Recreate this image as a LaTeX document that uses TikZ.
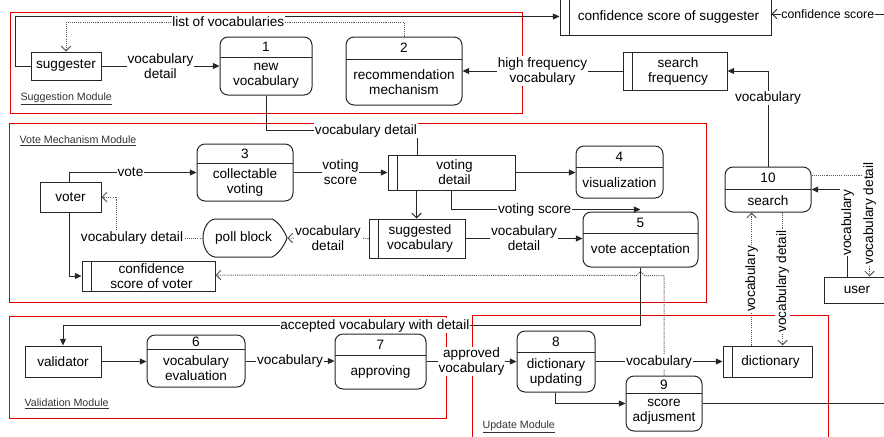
\documentclass[tikz,border=0pt]{standalone}
\usepackage{fontspec}
\setmainfont{Liberation Sans}
\usetikzlibrary{arrows.meta,calc}
\tikzset{
  every node/.style={font=\fontsize{10.2}{11.25}\selectfont, inner sep=1pt, align=center},
  ln/.style={line width=0.75pt, draw=black!85},
  dotln/.style={line width=0.75pt, draw=black!65, dash pattern=on 0.8pt off 0.8pt},
  ftip/.style={-{Triangle[length=5pt,width=4.5pt]}},
  otip/.style={-{Straight Barb[length=3.5pt,width=7pt]}},
  lbl/.style={fill=white, inner sep=0.6pt},
  proc/.style={draw=black!85, line width=0.75pt, rounded corners=6pt, inner sep=0pt},
  storebox/.style={draw=black!85, line width=0.75pt, inner sep=0pt},
  ent/.style={draw=black!85, line width=0.75pt, inner sep=0pt},
  module/.style={draw=red!90!black, line width=0.75pt},
  modlbl/.style={font=\fontsize{8}{9}\selectfont, anchor=west, text=black!80},
}
\newcommand\procnode[8]{%
  \node[proc, minimum width={(#4-#2)*0.75pt}, minimum height={(#5-#3)*0.75pt}] (#1) at ({(#2+#4)/2},{(#3+#5)/2}) {};
  \draw[ln] (#2,#6) -- (#4,#6);
  \node (#1n) at ({(#2+#4)/2},{(#3+#6)/2}) {#7};
  \node (#1t) at ({(#2+#4)/2},{(#6+#5)/2}) {#8};
}
\newcommand\storenode[6]{%
  \node[storebox, minimum width={(#4-#2)*0.75pt}, minimum height={(#5-#3)*0.75pt}] (#1) at ({(#2+#4)/2},{(#3+#5)/2}) {};
  \draw[ln] ({#2+9},#3) -- ({#2+9},#5);
  \node (#1t) at ({(#2+#4)/2+3},{(#3+#5)/2}) {#6};
}
\newcommand\entnode[6]{%
  \node[ent, minimum width={(#4-#2)*0.75pt}, minimum height={(#5-#3)*0.75pt}] (#1) at ({(#2+#4)/2},{(#3+#5)/2}) {#6};
}
\begin{document}
\begin{tikzpicture}[x=0.75pt,y=-0.75pt]
\useasboundingbox (0,0) rectangle (884,436);

% modules
\draw[module] (10,12) rectangle (522,113);
\draw[module] (9,123) rectangle (706,302);
\draw[module] (9,316) rectangle (446,418);
\draw[module] (472,315) rectangle (828,448);
\node[modlbl] (m1) at (19,99) {\underline{Suggestion Module}};
\node[modlbl] (m2) at (18,141) {\underline{Vote Mechanism Module}};
\node[modlbl] (m3) at (23,404) {\underline{Validation Module}};
\node[modlbl] (m4) at (481,427) {\underline{Update Module}};

% nodes
\entnode{sug}{31}{52}{101}{80}{suggester}
\procnode{p1}{220}{37}{312}{95}{57}{1}{new\\vocabulary}
\procnode{p2}{346}{37}{462}{105}{59}{2}{recommendation\\mechanism}
\storenode{css}{560}{-2}{771}{35}{confidence score of suggester}
\storenode{sf}{623}{52}{727}{90}{search\\frequency}
\procnode{p10}{725}{167}{811}{212}{189}{10}{search}
\entnode{user}{824}{277}{890}{303}{user}

\entnode{voter}{40}{182}{101}{212}{voter}
\procnode{p3}{197}{144}{293}{201}{163}{3}{collectable\\voting}
\storenode{vd}{388}{155}{515}{190}{voting\\detail}
\procnode{p4}{576}{146}{663}{198}{167}{4}{visualization}
\storenode{sv}{369}{219}{465}{258}{suggested\\vocabulary}
\procnode{p5}{583}{212}{698}{267}{233}{5}{vote acceptation}
\node[minimum width={84*0.75pt}, minimum height={38*0.75pt}, inner sep=0pt] (pb) at (245,238) {};
\draw[ln] (215,219) -- (272,219) .. controls (279,222) and (285,232) .. (287,238)
  .. controls (285,244) and (279,254) .. (272,257) -- (215,257)
  .. controls (207,256) and (203,246) .. (203,238)
  .. controls (203,230) and (207,220) .. (215,219) -- cycle;
\node (pbt) at (243.5,238) {poll block};
\storenode{csv}{82}{261}{215}{291}{confidence\\score of voter}

\entnode{val}{25}{346}{101}{377}{validator}
\procnode{p6}{147}{335}{245}{387}{349}{6}{vocabulary\\evaluation}
\procnode{p7}{335}{334}{426}{389}{355}{7}{approving}
\procnode{p8}{517}{331}{595}{392}{352}{8}{dictionary\\updating}
\procnode{p9}{626}{376}{702}{431}{393}{9}{score\\adjusment}
\storenode{dic}{723}{346}{812}{377}{dictionary}

\coordinate (y22) at (0,22);
\coordinate (cse) at (884,14);
\coordinate (rt) at (884,403);

% suggestion module connectors
\draw[ln,ftip] (sug.west) -- ++(-15,0) |- (css.west);
\draw[dotln,otip] (p2.north) |- node[lbl,pos=0.76]{list of vocabularies} (sug.north |- y22) -- (sug.north);
\draw[ln,ftip] (sug.east) -- node[lbl]{vocabulary\\detail} (p1.west |- sug.east);
\draw[ln,ftip] (sf.west) -- node[lbl]{high frequency\\vocabulary} (p2.east |- sf.west);
\draw[ln,ftip] (p10.north) |- node[lbl,pos=0.36]{vocabulary} (sf.east);
\draw[ln,otip] (cse) -- node[lbl,font=\fontsize{9.2}{10}\selectfont]{confidence score} (css.east |- cse);
\draw[ln,ftip] ($(user.north west)+(24,0)$) |- node[lbl,rotate=90,pos=0.31]{vocabulary} (p10.east);
\draw[dotln,otip] ($(p10.east)+(0,-14.5)$) -| node[lbl,rotate=90,pos=0.69]{vocabulary detail} ($(user.north west)+(46,0)$);
\draw[dotln,otip] ($(dic.north west)+(29,0)$) -- node[lbl,rotate=90,pos=0.5]{vocabulary} ($(p10.south west)+(27,0)$);
\draw[dotln,otip] ($(p10.south west)+(58,0)$) -- node[lbl,rotate=90,pos=0.52]{vocabulary detail} ($(dic.north west)+(60,0)$);
\draw[ln] (p1.south) |- node[lbl,pos=0.83]{vocabulary detail} ($(vd.north west)+(30,-24)$) -- ($(vd.north west)+(30,0)$);

% vote module connectors
\draw[ln,ftip] ($(voter.north west)+(30,0)$) |- node[lbl,pos=0.74]{vote} (p3.west);
\draw[ln,ftip] (p3.east) -- node[lbl]{voting\\score} (vd.west |- p3.east);
\draw[ln,ftip] (vd.east) -- (p4.west |- vd.east);
\draw[ln,otip] ($(vd.south west)+(29,0)$) -- ($(sv.north west)+(48,0)$);
\draw[ln,ftip] ($(vd.south west)+(64,0)$) |- node[lbl,pos=0.72]{voting score} ($(p5.north)+(0,-2)$);
\draw[ln,ftip] (sv.east) -- node[lbl]{vocabulary\\detail} (p5.west |- sv.east);
\draw[dotln,otip] (sv.west) -- node[lbl]{vocabulary\\detail} (pb.east);
\draw[dotln,otip] (pb.west) -| node[lbl,pos=0.41]{vocabulary detail} ($(voter.east)+(15,0)$) -- (voter.east);
\draw[ln,ftip] ($(voter.south west)+(30,0)$) |- (csv.west);
\draw[dotln,otip] (p9.north) |- ($(p5.south)+(4,8)$) -- ($(p5.south)+(0,4)$) -- ($(p5.south)+(-4,8)$) -- ($(csv.east)+(0,-1)$);
\draw[ln,ftip] (p5.south) |- node[lbl,pos=0.73]{accepted vocabulary with detail} ($(val.north)+(0,-20)$) -- (val.north);

% validation / update connectors
\draw[ln,ftip] (val.east) -- (p6.west |- val.east);
\draw[ln,ftip] (p6.east) -- node[lbl]{vocabulary} (p7.west |- p6.east);
\draw[ln,ftip] (p7.east) -- node[lbl]{approved\\vocabulary} (p8.west |- p7.east);
\draw[ln,ftip] (p8.east) -- node[lbl]{vocabulary} (dic.west |- p8.east);
\draw[ln,ftip] ($(p8.south west)+(39,0)$) |- (p9.west);
\draw[ln] (p9.east) -- (p9.east -| rt);
\end{tikzpicture}
\end{document}
